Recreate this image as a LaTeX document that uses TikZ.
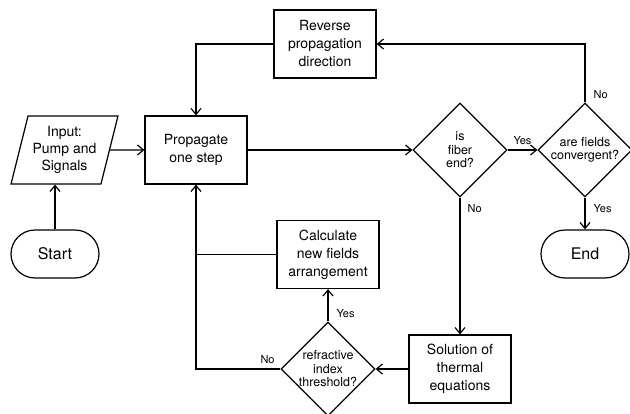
\documentclass[tikz,border=0pt]{standalone}
\usepackage{fontspec}
\setmainfont{TeX Gyre Heros}
\usetikzlibrary{shapes.geometric,arrows.meta}

\begin{document}
\begin{tikzpicture}[x=1pt,y=-1pt]
\tikzset{BoxStyle/.style = 
		{shape = rectangle,
		minimum width = 102pt,
		minimum height = 68pt,
		align = center,
		font = \fontsize{14}{18}\selectfont,
		line width = 1.2pt,
		draw},
	TermStyle/.style = 
		{shape = rectangle,
		rounded corners = 24pt,
		minimum width = 88pt,
		minimum height = 48pt,
		font = \fontsize{16}{19}\selectfont,
		line width = 1.2pt,
		draw},
	InputStyle/.style = 
		{shape = trapezium,
		trapezium left angle = 73,
		trapezium right angle = 107,
		trapezium stretches = true,
		minimum width = 107pt,
		minimum height = 68pt,
		align = center,
		font = \fontsize{14}{17}\selectfont,
		line width = 1.2pt,
		draw},
	DecisionStyle/.style = 
		{shape = diamond,
		minimum width = 94pt,
		minimum height = 94pt,
		inner sep = 0pt,
		line width = 1.2pt,
		draw},
	DecisionText/.style = 
		{align = center,
		font = \fontsize{12.5}{13.5}\selectfont},
	LabelStyle/.style = 
		{inner sep = 0pt,
		font = \fontsize{11}{13}\selectfont},
	EdgeStyle/.style = {line width = 1.2pt, -{Straight Barb[length=6pt,width=10pt]}},
	LineStyle/.style = {line width = 1.2pt}}
	\useasboundingbox (0,0) rectangle (630,414);

	\node[TermStyle] (Start) at (55,254) {Start};
	\node[InputStyle] (Input) at (64.5,150) {Input:\\Pump and\\Signals};
	\node[BoxStyle] (Propagate) at (196,150) {Propagate\\one step};
	\node[DecisionStyle, label = {[DecisionText]center:is\\fiber\\end?}] (Fiber) at (460,150) {};
	\node[DecisionStyle, label = {[DecisionText]center:are fields\\convergent?}] (Convergent) at (585,150) {};
	\node[TermStyle] (End) at (585,254) {End};
	\node[BoxStyle] (Reverse) at (325,44) {Reverse\\propagation\\direction};
	\node[BoxStyle] (Solution) at (460,369) {Solution of\\thermal\\equations};
	\node[DecisionStyle, label = {[DecisionText]center:refractive\\index\\threshold?}] (Refractive) at (328,369) {};
	\node[BoxStyle] (Calculate) at (328,254.5) {Calculate\\new fields\\arrangement};
%	\node[BoxStyle] (Extra) at (196,44) {};

	\draw[EdgeStyle] (Start) -- (Start |- Input.south);
	\draw[EdgeStyle] (Input) -- (Propagate);
	\draw[EdgeStyle] (Propagate) -- (Fiber);
	\draw[EdgeStyle] (Fiber) -- node[LabelStyle, above = 5pt] {Yes} (Convergent);
	\draw[EdgeStyle] (Convergent) -- node[LabelStyle, right = 8pt, pos = 0.35] {Yes} (End);
	\draw[EdgeStyle] (Convergent) |- node[LabelStyle, right = 8pt, pos = 0.07] {No} (Reverse);
	\draw[EdgeStyle] (Reverse) -| (Propagate);
	\draw[EdgeStyle] (Fiber) -- node[LabelStyle, right = 7pt, pos = 0.08] {No} (Solution);
	\draw[EdgeStyle] (Solution) -- (Refractive);
	\draw[EdgeStyle] (Refractive) -- node[LabelStyle, right = 8pt, pos = 0.23] {Yes} (Calculate);
	\draw[EdgeStyle] (Refractive) -| node[LabelStyle, above = 5pt, pos = 0.076] {No} (Propagate);
	\draw[LineStyle] (Calculate) -- (Calculate -| Propagate);
%	\draw[LineStyle] (Calculate) -- (Propagate);
\end{tikzpicture}
\end{document}
